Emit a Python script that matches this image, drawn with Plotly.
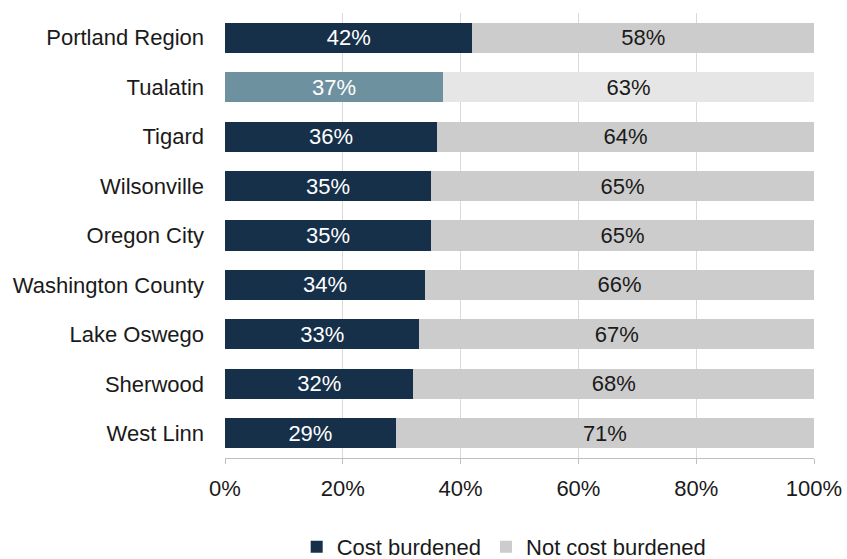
import plotly.graph_objects as go

# Share of households by cost-burden status
places = ["Portland Region", "Tualatin", "Tigard", "Wilsonville", "Oregon City",
          "Washington County", "Lake Oswego", "Sherwood", "West Linn"]
cost_burdened = [42, 37, 36, 35, 35, 34, 33, 32, 29]
not_burdened = [58, 63, 64, 65, 65, 66, 67, 68, 71]
tick_vals = [0, 20, 40, 60, 80, 100]
tick_text = ["0%", "20%", "40%", "60%", "80%", "100%"]

highlight = "Tualatin"
dark = "#17304a"
dark_hl = "#6e919f"
grey = "#cccccc"
grey_hl = "#e6e6e6"

font_family = "Liberation Sans, Arial, sans-serif"
fs = 22

fig = go.Figure()
fig.add_trace(go.Bar(
    name="Cost burdened",
    y=places, x=cost_burdened, orientation="h",
    marker=dict(color=[dark_hl if p == highlight else dark for p in places], line=dict(width=0)),
    text=[f"{v}%" for v in cost_burdened],
    textposition="inside", insidetextanchor="middle", constraintext="none",
    textfont=dict(color="white", size=fs, family=font_family),
    hoverinfo="skip",
))
fig.add_trace(go.Bar(
    name="Not cost burdened",
    y=places, x=not_burdened, orientation="h",
    marker=dict(color=[grey_hl if p == highlight else grey for p in places], line=dict(width=0)),
    text=[f"{v}%" for v in not_burdened],
    textposition="inside", insidetextanchor="middle", constraintext="none",
    textfont=dict(color="#1a1a1a", size=fs, family=font_family),
    hoverinfo="skip",
))

fig.update_layout(
    width=847, height=559,
    barmode="stack", bargap=0.39,
    plot_bgcolor="white", paper_bgcolor="white",
    margin=dict(l=225, r=33, t=13, b=101, autoexpand=False),
    font=dict(family=font_family, size=fs, color="#1a1a1a"),
    legend=dict(orientation="h", x=0.474, xanchor="center", y=-0.2, yanchor="middle",
                font=dict(size=fs), itemwidth=30, traceorder="normal",
                tracegroupgap=0, borderwidth=0),
    xaxis=dict(range=[0, 100], tickvals=tick_vals, ticktext=tick_text,
               showgrid=True, gridcolor="#d9d9d9", gridwidth=1,
               showline=True, linecolor="#bfbfbf", linewidth=1,
               ticks="outside", ticklen=5, tickcolor="#bfbfbf",
               ticklabelstandoff=6,
               zeroline=False, fixedrange=True, automargin=False),
    yaxis=dict(autorange="reversed", showgrid=False, showline=False,
               ticks="", ticklabelstandoff=20, fixedrange=True, automargin=False),
)

fig.write_html("out.html")
